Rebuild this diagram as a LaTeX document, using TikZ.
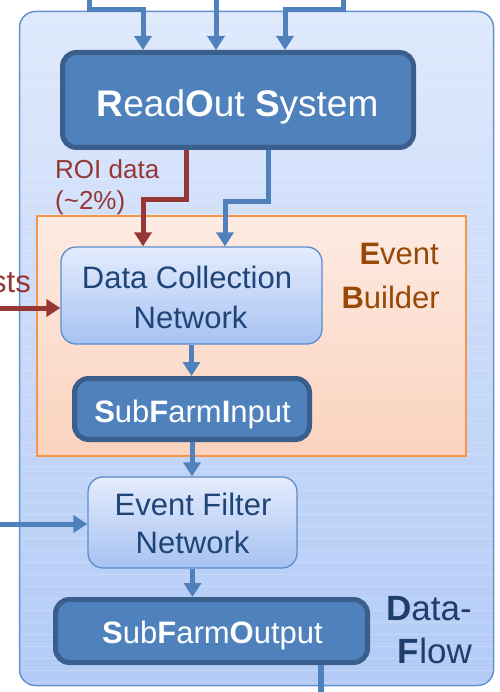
\documentclass[tikz,border=0pt]{standalone}
\usepackage{fontspec}
\setmainfont{Liberation Sans}
\usetikzlibrary{arrows.meta}

\definecolor{rosfill}{HTML}{4F81BD}
\definecolor{rosedge}{HTML}{3A5F8C}
\definecolor{flowblue}{HTML}{4F81BD}
\definecolor{roired}{HTML}{953735}
\definecolor{ebtop}{HTML}{FDEBE3}
\definecolor{ebbottom}{HTML}{FBD3BE}
\definecolor{ebedge}{HTML}{F79646}
\definecolor{ebtext}{HTML}{984807}
\definecolor{dftext}{HTML}{1F3E6B}
\definecolor{nettop}{HTML}{E4ECFD}
\definecolor{netbottom}{HTML}{A7C2F2}
\definecolor{netedge}{HTML}{5E8DCA}
\definecolor{nettext}{HTML}{1F4478}
\definecolor{outertop}{HTML}{DFE9FC}
\definecolor{outerbottom}{HTML}{B3CBF6}
\definecolor{outeredge}{HTML}{6392CE}

\tikzset{
  bigfont/.style={font=\fontsize{37}{44}\selectfont},
  midfont/.style={font=\fontsize{31}{37}\selectfont},
  smallfont/.style={font=\fontsize{26}{31}\selectfont},
  dffont/.style={font=\fontsize{35}{42}\selectfont},
  darkbox/.style={draw=rosedge, line width=5pt, fill=rosfill, rounded corners=14pt, inner sep=0pt},
  netbox/.style={draw=netedge, line width=1.3pt, top color=nettop, bottom color=netbottom, rounded corners=15pt, inner sep=0pt},
  flowtip/.style={-{Triangle[width=17pt,length=14pt]}},
  flow/.style={draw=flowblue, line width=5pt, flowtip},
  roi/.style={draw=roired, line width=5pt, -{Triangle[width=17pt,length=14pt]}},
  plainflow/.style={draw=flowblue, line width=5.5pt},
  lbl/.style={inner sep=0pt, anchor=base},
}

\begin{document}
\begin{tikzpicture}[x=1pt,y=-1pt]
\useasboundingbox (0,0) rectangle (499,692);

% DataFlow frame
\node[draw=outeredge, line width=1.5pt, top color=outertop, bottom color=outerbottom,
      rounded corners=16pt, minimum width=474pt, minimum height=674pt, inner sep=0pt]
      (dataflow) at (256.5,348.5) {};
\begin{scope}
  \clip[rounded corners=15pt] (20,12) rectangle (493,685);
  \foreach \yy in {22,34,...,682}
    \draw[white, opacity=0.22, line width=0.8pt] (20,\yy) -- (493,\yy);
\end{scope}

% Event Builder frame
\node[draw=ebedge, line width=1.5pt, top color=ebtop, bottom color=ebbottom,
      minimum width=429pt, minimum height=240pt, inner sep=0pt]
      (eb) at (251.5,336) {};

% Boxes
\node[darkbox, minimum width=351pt, minimum height=95pt] (ros) at (238,100) {};
\node[netbox, minimum width=261pt, minimum height=97pt] (dcn) at (191.5,295.5) {};
\node[darkbox, minimum width=235pt, minimum height=61pt] (sfi) at (192,409) {};
\node[netbox, minimum width=209pt, minimum height=91pt] (efn) at (192.5,522.5) {};
\node[darkbox, minimum width=312pt, minimum height=63pt] (sfo) at (211.5,631) {};

% Box texts
\node[lbl, bigfont, text=white] (roslabel) at (237.5,117) {\textbf{R}ead\textbf{O}ut \textbf{S}ystem};
\node[lbl, midfont, text=nettext] (dcnlabelA) at (187,288) {Data Collection};
\node[lbl, midfont, text=nettext] (dcnlabelB) at (190.5,328) {Network};
\node[lbl, midfont, text=white] (sfilabel) at (192.5,422) {\textbf{S}ub\textbf{F}arm\textbf{I}nput};
\node[lbl, midfont, text=nettext] (efnlabelA) at (193,515) {Event Filter};
\node[lbl, midfont, text=nettext] (efnlabelB) at (192.5,553) {Network};
\node[lbl, midfont, text=white] (sfolabel) at (212.5,643) {\textbf{S}ub\textbf{F}arm\textbf{O}utput};

% Frame titles
\node[lbl, anchor=base east, midfont, text=ebtext] (ebA) at (439,265) {\textbf{E}vent};
\node[lbl, anchor=base east, midfont, text=ebtext] (ebB) at (440,308) {\textbf{B}uilder};
\node[lbl, anchor=base east, dffont, text=dftext] (dfA) at (472,620) {\textbf{D}ata-};
\node[lbl, anchor=base east, dffont, text=dftext] (dfB) at (472,663) {\textbf{F}low};

% Side labels
\node[lbl, anchor=base west, smallfont, text=roired] (roiA) at (55,179) {ROI data};
\node[lbl, anchor=base west, smallfont, text=roired] (roiB) at (55,210) {(\textasciitilde 2\%)};
\node[lbl, anchor=base east, midfont, text=roired] (reqlabel) at (31,292) {sts};

% Inputs into the ReadOut System
\coordinate (inA) at (89,0);
\coordinate (inB) at (216,0);
\coordinate (inC) at (343,0);
\draw[flow] (inA) -- ++(0,10) -| ([xshift=-95pt]ros.north);
\draw[flow] (inB) -- (inB |- ros.north);
\draw[flow] (inC) -- ++(0,10) -| ([xshift=47pt]ros.north);

% ReadOut System to the Data Collection Network
\draw[roi] ([xshift=-52pt]ros.south) -- ++(0,50) -| ([xshift=-48.5pt]dcn.north);
\draw[flow] ([xshift=30pt]ros.south) -- ++(0,52) -| ([xshift=33.5pt]dcn.north);

% Requests from the left
\coordinate (reqin) at (0,308);
\draw[roi] (reqin) -- (reqin -| dcn.west);

% Event building chain
\draw[flow] (dcn.south) -- (dcn.south |- sfi.north);
\draw[flow] (sfi.south) -- (sfi.south |- efn.north);
\coordinate (efin) at (0,524);
\draw[flow] (efin) -- (efin -| efn.west);
\draw[flow] (efn.south) -- (efn.south |- sfo.north);

% Output
\coordinate (out) at (321,692);
\draw[plainflow] (out |- sfo.south) -- (out);
\end{tikzpicture}
\end{document}
